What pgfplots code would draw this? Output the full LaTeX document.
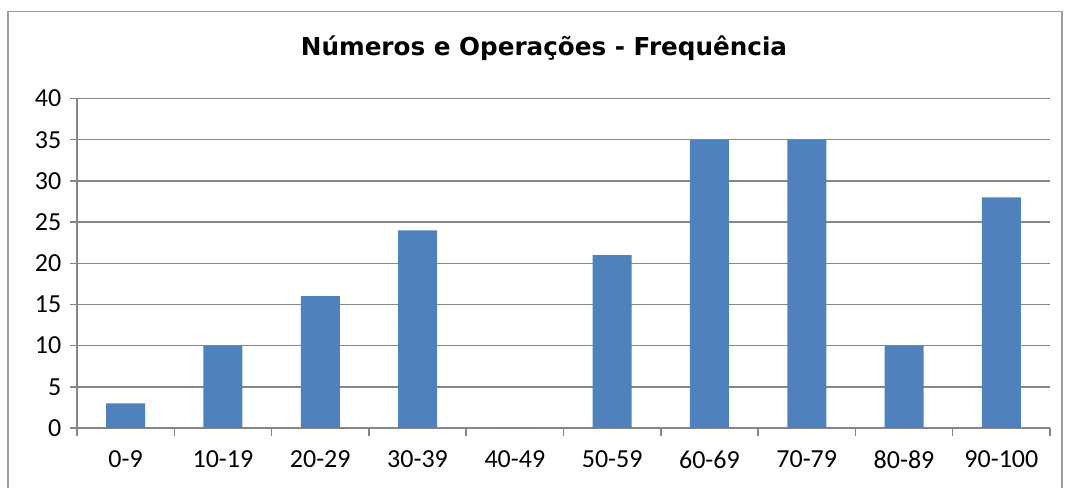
\documentclass[border=0pt]{standalone}
\usepackage{pgfplots}
\pgfplotsset{compat=1.18}
\usepackage{fontspec}
\setmainfont{Carlito}
\newfontfamily\titlefont{DejaVu Sans}
\definecolor{barblue}{HTML}{4F81BD}
\definecolor{gridgray}{HTML}{868686}
\begin{document}
\begin{tikzpicture}
\useasboundingbox (0pt,0pt) rectangle (798.75pt,366pt);
\draw[gridgray!80, line width=1pt] (6pt,-15pt) rectangle (796.5pt,357.5pt);
\node[font=\titlefont\bfseries\fontsize{18.5}{21}\selectfont] at (408pt,330pt) {Números e Operações - Frequência};
\begin{axis}[
  at={(57.75pt,45pt)}, anchor=origin,
  scale only axis, width=729.75pt, height=247.1pt,
  xmin=0, xmax=10, ymin=0, ymax=40,
  axis lines*=left,
  axis line style={gridgray, line width=1.1pt},
  ytick={0,5,...,40},
  ymajorgrids, major grid style={gridgray, line width=1.1pt},
  xtick={0.5,1.5,...,9.5},
  xticklabels={0-9,10-19,20-29,30-39,40-49,50-59,60-69,70-79,80-89,90-100},
  minor xtick={0,1,...,10},
  every major x tick/.style={draw=none},
  every minor x tick/.style={gridgray, line width=1.1pt},
  every major y tick/.style={gridgray, line width=1.1pt},
  tick align=outside, major tick length=5.25pt, minor tick length=6pt,
  ticklabel style={font=\fontsize{19.5}{22}\selectfont},
  /pgf/number format/assume math mode=true,
  xticklabel style={yshift=-8.5pt},
  yticklabel style={xshift=-3pt},
  ybar, bar width=29.25pt,
]
\addplot[fill=barblue, draw=none] coordinates {(0.5,3) (1.5,10) (2.5,16) (3.5,24) (4.5,0) (5.5,21) (6.5,35) (7.5,35) (8.5,10) (9.5,28)};
\end{axis}
\end{tikzpicture}
\end{document}
